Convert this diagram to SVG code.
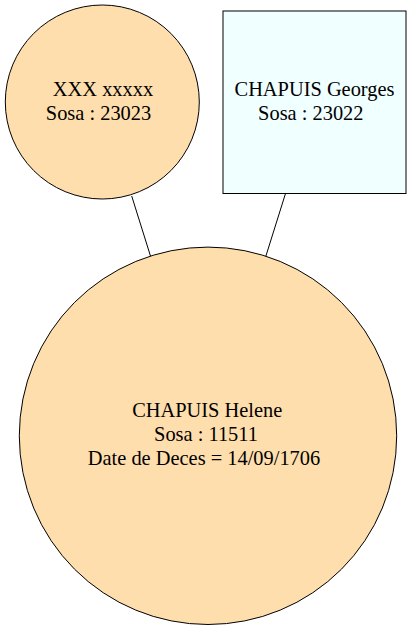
<svg xmlns="http://www.w3.org/2000/svg" width="411" height="630" viewBox="0 0 411 630">
<style>
.n{fill:#ffdead;stroke:#000;stroke-width:1}
.m{fill:#f0ffff;stroke:#000;stroke-width:1}
.e{stroke:#000;stroke-width:1;fill:none}
text{font-family:"Liberation Serif","Times New Roman",serif;font-size:20.4px;fill:#000;text-anchor:middle}
</style>
<rect width="411" height="630" fill="#fff"/>
<g id="edges">
<line class="e" x1="131.7" y1="196" x2="150.7" y2="256.7"/>
<line class="e" x1="285.5" y1="193.5" x2="265.7" y2="256.7"/>
</g>
<g id="n23023">
<circle class="n" cx="102.3" cy="102" r="97"/>
<text x="103" y="96">XXX xxxxx</text>
<text x="98.5" y="119.5">Sosa : 23023</text>
</g>
<g id="n23022">
<rect class="m" x="223" y="11" width="183" height="182.5"/>
<text x="314.5" y="96">CHAPUIS Georges</text>
<text x="310.8" y="119.5">Sosa : 23022</text>
</g>
<g id="n11511">
<circle class="n" cx="208" cy="435.8" r="188.7"/>
<text x="207.2" y="416.7">CHAPUIS Helene</text>
<text x="206" y="440.7">Sosa : 11511</text>
<text x="204" y="464.5">Date de Deces = 14/09/1706</text>
</g>
</svg>
